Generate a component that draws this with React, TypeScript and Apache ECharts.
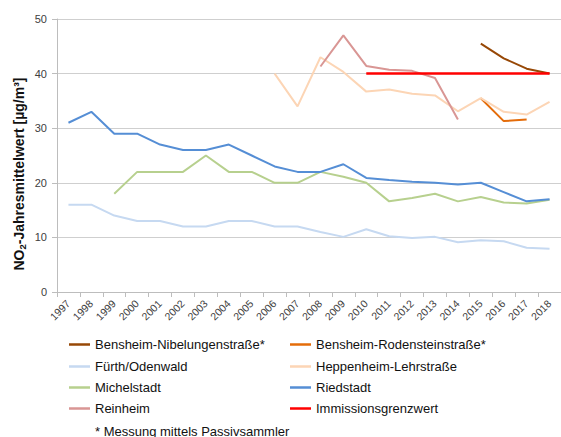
import React, { useEffect, useRef } from "react";
import * as echarts from "echarts";

const years = [
  "1997", "1998", "1999", "2000", "2001", "2002", "2003", "2004", "2005", "2006", "2007",
  "2008", "2009", "2010", "2011", "2012", "2013", "2014", "2015", "2016", "2017", "2018",
];

const N = null;
const nibelungen = [N, N, N, N, N, N, N, N, N, N, N, N, N, N, N, N, N, N, 45.5, 42.8, 40.9, 40.0];
const rodenstein = [N, N, N, N, N, N, N, N, N, N, N, N, N, N, N, N, N, N, 35.5, 31.3, 31.6, N];
const fuerth = [16, 16, 14, 13, 13, 12, 12, 13, 13, 12, 12, 11, 10.1, 11.5, 10.2, 9.9, 10.1, 9.1, 9.5, 9.3, 8.1, 7.9];
const heppenheim = [N, N, N, N, N, N, N, N, N, 40, 34, 43, 40.3, 36.7, 37.1, 36.3, 36.0, 33.1, 35.5, 33.0, 32.5, 34.8];
const michelstadt = [N, N, 18, 22, 22, 22, 25, 22, 22, 20, 20, 22, 21.1, 20, 16.6, 17.2, 18, 16.6, 17.4, 16.4, 16.2, 16.9];
const riedstadt = [31, 33, 29, 29, 27, 26, 26, 27, 25, 23, 22, 22, 23.4, 20.9, 20.5, 20.2, 20, 19.7, 20, 18.3, 16.6, 17];
const reinheim = [N, N, N, N, N, N, N, N, N, N, N, 41.3, 47, 41.4, 40.7, 40.5, 39.2, 31.6, N, N, N, N];
const grenzwert = [N, N, N, N, N, N, N, N, N, N, N, N, N, 40, 40, 40, 40, 40, 40, 40, 40, 40];

const seriesDefs = [
  { name: "Bensheim-Nibelungenstraße*", data: nibelungen, color: "#974806" },
  { name: "Bensheim-Rodensteinstraße*", data: rodenstein, color: "#e46c0a" },
  { name: "Fürth/Odenwald", data: fuerth, color: "#c6d9f1" },
  { name: "Heppenheim-Lehrstraße", data: heppenheim, color: "#fcd5b5" },
  { name: "Michelstadt", data: michelstadt, color: "#b7d08e" },
  { name: "Riedstadt", data: riedstadt, color: "#558ed5" },
  { name: "Reinheim", data: reinheim, color: "#d99694" },
  { name: "Immissionsgrenzwert", data: grenzwert, color: "#ff0000" },
];

const yTitle = "NO2-Jahresmittelwert [µg/m³]";
const footnote = "* Messung mittels Passivsammler";

const FONT = "'Liberation Sans', Arial, sans-serif";

export default function App() {
  const ref = useRef<HTMLDivElement>(null);

  useEffect(() => {
    document.body.style.margin = "0";
    if (!ref.current) return;
    const chart = echarts.init(ref.current, undefined, { renderer: "svg" });

    const legendCols = [69, 290];
    const legendRows = [345, 367, 388, 409];
    const legends = seriesDefs.map((s, i) => ({
      data: [s.name],
      left: legendCols[i % 2],
      top: legendRows[Math.floor(i / 2)] - 7,
      padding: 0,
      icon: "rect",
      itemWidth: 21,
      itemHeight: 2.5,
      selectedMode: false,
      textStyle: { fontSize: 13, color: "#111", fontFamily: FONT },
    }));

    chart.setOption({
      animation: false,
      textStyle: { fontFamily: FONT },
      grid: { left: 57, top: 19, width: 507, height: 273, containLabel: false },
      legend: legends,
      xAxis: {
        type: "category",
        data: years,
        boundaryGap: true,
        axisLine: { show: true, lineStyle: { color: "#bdbdbd", width: 1 } },
        axisTick: { show: true, length: 5, interval: 0, lineStyle: { color: "#bdbdbd" } },
        axisLabel: { rotate: 45, interval: 0, fontSize: 10.5, color: "#404040", margin: 10, fontFamily: FONT },
        splitLine: { show: false },
      },
      yAxis: {
        type: "value",
        min: 0,
        max: 50,
        interval: 10,
        axisLine: { show: true, lineStyle: { color: "#bdbdbd", width: 1 } },
        axisTick: { show: true, length: 5, lineStyle: { color: "#bdbdbd" } },
        axisLabel: { fontSize: 11, color: "#404040", margin: 10, fontFamily: FONT },
        splitLine: { show: true, lineStyle: { color: "#cfcfcf", width: 1 } },
      },
      series: seriesDefs.map((s) => ({
        name: s.name,
        type: "line",
        data: s.data,
        symbol: "none",
        smooth: false,
        connectNulls: false,
        lineStyle: { color: s.color, width: s.name === "Immissionsgrenzwert" ? 2.5 : 2 },
        itemStyle: { color: s.color },
      })),
      graphic: [
        {
          type: "text",
          x: 19,
          y: 174,
          rotation: Math.PI / 2,
          style: {
            text: "{a|NO}{s|2}{a|-Jahresmittelwert [µg/m³]}",
            align: "center",
            verticalAlign: "middle",
            rich: {
              a: { fontSize: 14, fontWeight: "bold", fontFamily: FONT, fill: "#111", lineHeight: 17 },
              s: { fontSize: 9.5, fontWeight: "bold", fontFamily: FONT, fill: "#111", verticalAlign: "bottom", lineHeight: 13 },
            },
          },
        },
        {
          type: "text",
          x: 95,
          y: 431,
          style: {
            text: footnote,
            fontSize: 13,
            fontFamily: FONT,
            fill: "#111",
            verticalAlign: "middle",
          },
        },
      ],
    });

    return () => chart.dispose();
  }, []);

  return <div ref={ref} style={{ width: 561, height: 437 }} aria-label={yTitle} />;
}
